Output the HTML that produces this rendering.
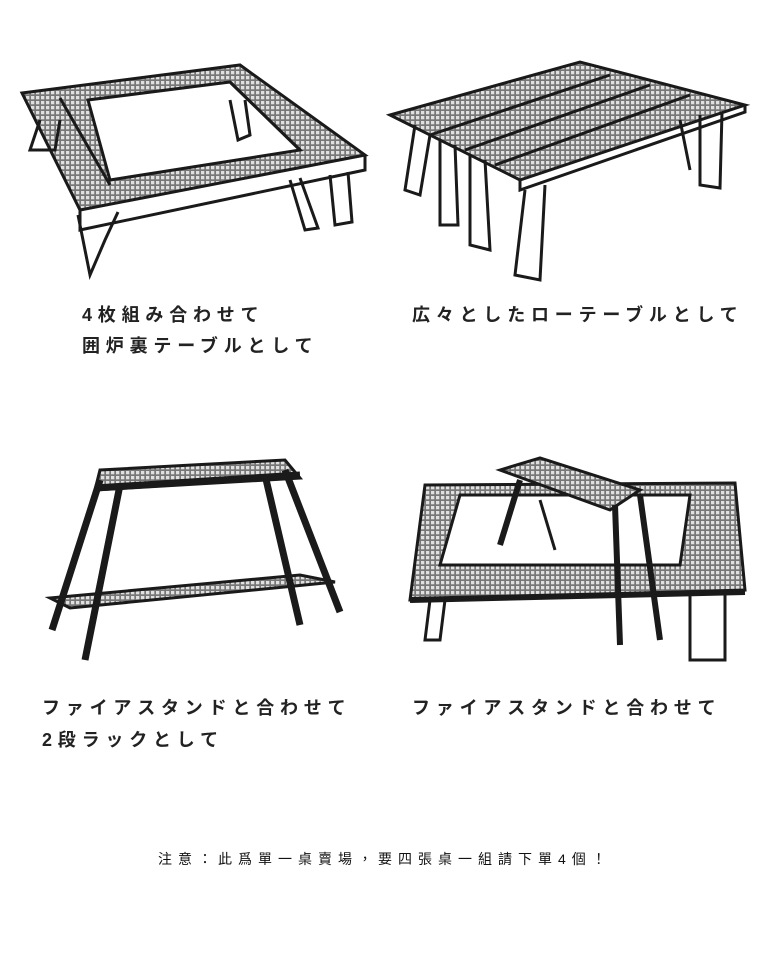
<!DOCTYPE html>
<html><head><meta charset="utf-8"><style>
html,body{margin:0;padding:0;background:#fff;width:768px;height:964px;overflow:hidden;position:relative}
.t{position:absolute;font-family:"Liberation Sans","Noto Sans CJK JP",sans-serif;font-weight:bold;font-size:18px;color:#222;letter-spacing:5.8px;white-space:nowrap}
.n{position:absolute;font-family:"Liberation Sans","Noto Sans CJK TC",sans-serif;font-size:14px;color:#111;letter-spacing:6px;white-space:nowrap}
svg{position:absolute;left:0;top:0}
</style></head><body>
<svg width="768" height="964" viewBox="0 0 768 964">
<defs>
<pattern id="m" width="5" height="5" patternUnits="userSpaceOnUse"><rect width="5" height="5" fill="#777"/><rect x="1" y="1" width="3.3" height="3.3" fill="#e0e0e0"/></pattern>
</defs>
<g stroke="#1a1a1a" stroke-width="3" fill="none">
<polygon points="22,93 240,65 365,155 80,210" fill="url(#m)"/>
<polygon points="88,100 230,82 300,150 110,180" fill="#fff"/>
<polyline points="80,210 80,230 365,170 365,155"/>
<line x1="60" y1="98" x2="110" y2="185"/><line x1="230" y1="82" x2="300" y2="150"/>
<polyline points="78,215 90,275 105,240 118,212"/><polyline points="40,120 30,150 55,150 60,120"/>
<polyline points="290,180 305,230 318,228 300,178"/><polyline points="330,175 335,225 352,222 348,172"/>
<polyline points="230,100 238,140 250,135 245,100"/>
<polygon points="390,115 580,62 745,105 520,180" fill="url(#m)"/>
<line x1="430" y1="135" x2="610" y2="75"/><line x1="465" y1="150" x2="650" y2="85"/><line x1="495" y1="165" x2="690" y2="95"/>
<polyline points="520,180 520,190 745,112 745,105"/>
<polyline points="415,125 405,190 420,195 430,135"/><polyline points="440,140 440,225 458,225 455,145"/>
<polyline points="470,155 470,245 490,250 485,160"/><polyline points="525,190 515,275 540,280 545,185"/>
<polyline points="700,115 700,185 720,188 722,112"/><polyline points="680,120 690,170"/>
<polygon points="100,470 285,460 300,478 95,490" fill="url(#m)"/>
<polygon points="50,598 300,575 335,582 70,608" fill="url(#m)"/>
<g stroke-width="7"><line x1="100" y1="480" x2="52" y2="630"/><line x1="120" y1="485" x2="85" y2="660"/>
<line x1="285" y1="470" x2="340" y2="612"/><line x1="265" y1="475" x2="300" y2="625"/>
<line x1="95" y1="488" x2="300" y2="475"/></g>
<polygon points="410,600 425,485 735,483 745,590" fill="url(#m)"/>
<polygon points="440,565 460,495 690,495 680,565" fill="#fff"/>
<polygon points="500,470 540,458 640,490 610,510" fill="url(#m)"/>
<g stroke-width="6"><line x1="520" y1="480" x2="500" y2="545"/><line x1="615" y1="505" x2="620" y2="645"/>
<line x1="640" y1="495" x2="660" y2="640"/><line x1="410" y1="600" x2="745" y2="592"/></g>
<polyline points="430,600 425,640 440,640 445,600"/><polyline points="690,595 690,660 725,660 725,595"/>
<polyline points="540,500 555,550"/>
</g>
</svg>
<div class="t" style="left:82px;top:301px">4枚組み合わせて</div>
<div class="t" style="left:82px;top:332px">囲炉裏テーブルとして</div>
<div class="t" style="left:412px;top:301px">広々としたローテーブルとして</div>
<div class="t" style="left:42px;top:694px">ファイアスタンドと合わせて</div>
<div class="t" style="left:42px;top:726px">2段ラックとして</div>
<div class="t" style="left:412px;top:694px">ファイアスタンドと合わせて</div>
<div class="n" style="left:158px;top:849px">注意：此爲單一桌賣場，要四張桌一組請下單4個！</div>
</body></html>
